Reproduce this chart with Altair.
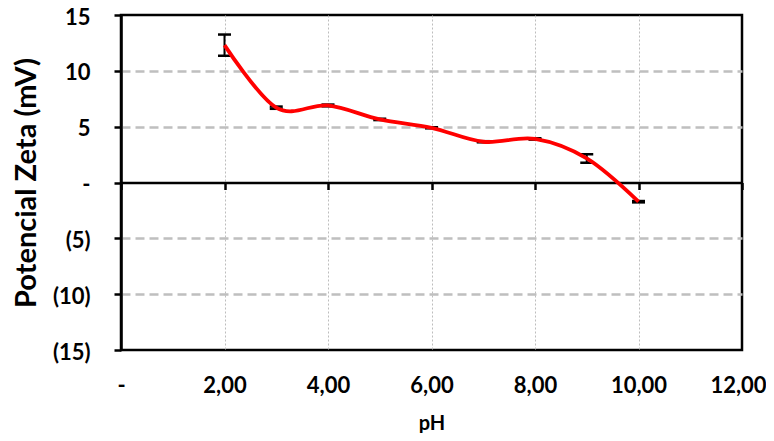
import altair as alt
import pandas as pd

ph = [2, 3, 4, 5, 6, 7, 8, 9, 10]
zeta = [12.3, 6.7, 6.9, 5.65, 4.9, 3.65, 3.9, 2.15, -1.72]
err = [0.95, 0.1, 0.08, 0.06, 0.05, 0.05, 0.06, 0.38, 0.06]
x_ticks = [0, 2, 4, 6, 8, 10, 12]
y_ticks = [-15, -10, -5, 0, 5, 10, 15]

df = pd.DataFrame({"ph": ph, "z": zeta, "err": err})
df["lo"] = df["z"] - df["err"]
df["hi"] = df["z"] + df["err"]

FONT = "Lato"
W, H = 621, 335

xscale = alt.Scale(domain=[0, 12], nice=False, zero=False)
yscale = alt.Scale(domain=[-15, 15], nice=False, zero=False)

xaxis = alt.Axis(
    values=x_ticks,
    labelExpr="datum.value == 0 ? '-\u2002' : replace(format(datum.value, '.2f'), '.', ',')",
    offset=-H / 2,
    tickSize=7, tickWidth=2.5, tickColor="black",
    domainColor="black", domainWidth=2.5,
    labelPadding=185.5, labelFlush=False, labelOverlap=False,
    labelOffset={"condition": {"test": "datum.value == 12", "value": -4}, "value": 0},
    labelFont=FONT, labelFontSize=22, labelFontWeight="bold", labelColor="black",
    grid=True, gridColor="#bdbdbd", gridWidth=1, gridDash=[2, 2],
    gridOpacity={"condition": {"test": "datum.value == 0 || datum.value == 12", "value": 0}, "value": 1},
    title="pH", titleFont=FONT, titleFontSize=20, titleFontWeight="bold", titleColor="black",
    titleY=246.5, titleBaseline="alphabetic",
)

yaxis = alt.Axis(
    values=y_ticks,
    labelExpr="datum.value == 0 ? '-\u2004' : (datum.value < 0 ? '(' + abs(datum.value) + ')' : datum.value + '\u2004')",
    tickSize=7, tickWidth=2.5, tickColor="black",
    domainColor="black", domainWidth=2.5,
    labelPadding=24, labelOverlap=False,
    labelBaseline="alphabetic", labelOffset=9,
    labelFont=FONT, labelFontSize=22, labelFontWeight="bold", labelColor="black",
    grid=True, gridColor="#bfbfbf", gridWidth=2.5, gridDash=[9, 5],
    gridOpacity={"condition": {"test": "datum.value == 0 || abs(datum.value) == 15", "value": 0}, "value": 1},
    title="Potencial Zeta (mV)", titleFont=FONT, titleFontSize=29, titleFontWeight="bold",
    titleColor="black", titleX=-86, titleY=H / 2, titleBaseline="alphabetic", titleAlign="center",
)

base = alt.Chart(df).encode(x=alt.X("ph:Q", scale=xscale, axis=xaxis))

bars = base.mark_rule(color="black", strokeWidth=2, opacity=1).encode(
    y=alt.Y("lo:Q", scale=yscale, axis=yaxis), y2="hi:Q"
)
cap_hi = base.mark_tick(color="black", orient="horizontal", size=13, thickness=2.5, opacity=1).encode(
    y=alt.Y("hi:Q", scale=yscale, axis=yaxis)
)
cap_lo = base.mark_tick(color="black", orient="horizontal", size=13, thickness=2.5, opacity=1).encode(
    y=alt.Y("lo:Q", scale=yscale, axis=yaxis)
)
line = base.mark_line(color="#ff0000", strokeWidth=3.8, interpolate="cardinal", tension=0).encode(
    y=alt.Y("z:Q", scale=yscale, axis=yaxis)
)

chart = alt.layer(bars, cap_hi, cap_lo, line).properties(
    width=W, height=H,
    autosize=alt.AutoSizeParams(type="none"),
    padding={"left": 113, "top": 7, "right": 24, "bottom": 83},
).configure_view(stroke="black", strokeWidth=2.5)

chart.save("out.html", embed_options={"renderer": "svg", "actions": False})
